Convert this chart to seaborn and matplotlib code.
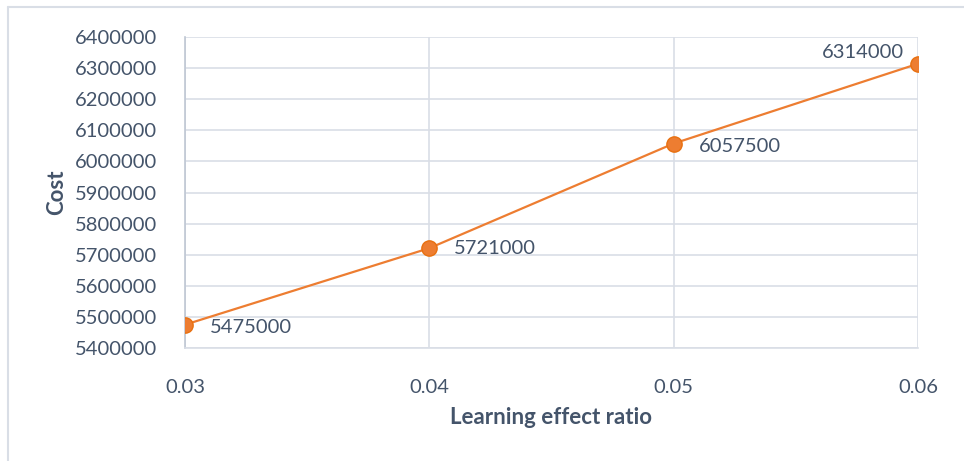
import matplotlib
matplotlib.use("Agg")
import matplotlib.pyplot as plt
from matplotlib.lines import Line2D
import seaborn as sns
import pandas as pd

# Cost as a function of the learning effect ratio
ratios = [0.03, 0.04, 0.05, 0.06]
costs = [5475000, 5721000, 6057500, 6314000]
x_ticks = [0.03, 0.04, 0.05, 0.06]
x_tick_labels = ["0.03", "0.04", "0.05", "0.06"]
y_ticks = list(range(5400000, 6400001, 100000))

df = pd.DataFrame({"ratio": ratios, "cost": costs})

sns.set_theme(style="white")
plt.rcParams["font.family"] = ["Lato", "DejaVu Sans"]

text_color = "#44546A"
grid_color = "#D9DEE6"
orange = "#ED7D31"

fig = plt.figure(figsize=(9.64, 4.61), dpi=100)
ax = fig.add_axes([185 / 964, 1 - 348 / 461, (918 - 185) / 964, (348 - 37) / 461])

sns.lineplot(
    data=df, x="ratio", y="cost", ax=ax, color=orange, linewidth=1.6,
    marker="o", markersize=11, markeredgecolor="#E8700F", markeredgewidth=1.0,
    zorder=5,
)

ax.set_xlim(0.03, 0.06)
ax.set_ylim(5400000, 6400000)
ax.set_xticks(x_ticks)
ax.set_xticklabels(x_tick_labels)
ax.set_yticks(y_ticks)
ax.set_yticklabels([str(v) for v in y_ticks])

ax.grid(True, color=grid_color, linewidth=1.2)
ax.set_axisbelow(True)
for side in ["top", "right"]:
    ax.spines[side].set_visible(False)
ax.spines["bottom"].set_color(grid_color)
ax.spines["bottom"].set_linewidth(1.2)
ax.spines["left"].set_color("#BFC7D3")
ax.spines["left"].set_linewidth(1.2)

ax.tick_params(axis="both", length=0, labelsize=14.5, labelcolor=text_color)
ax.tick_params(axis="x", pad=22)
ax.tick_params(axis="y", pad=20)

ax.set_xlabel("Learning effect ratio", fontsize=16, fontweight="bold",
              color=text_color, labelpad=8)
ax.set_ylabel("Cost", fontsize=16, fontweight="bold", color=text_color, labelpad=6)

# Value labels next to each point
offsets = [(18, -2, "left", "center"), (18, 0, "left", "center"),
           (18, -2, "left", "center"), (-10, 8, "right", "center")]
for x, y, (dx, dy, ha, va) in zip(ratios, costs, offsets):
    ax.annotate(str(y), (x, y), xytext=(dx, dy), textcoords="offset points",
                ha=ha, va=va, fontsize=14.5, color=text_color, zorder=6)

# Chart frame edges
fig.add_artist(Line2D([8 / 964, 8 / 964], [0, 1 - 7 / 461], transform=fig.transFigure,
                      color="#D9DEE6", linewidth=1.5))
fig.add_artist(Line2D([8 / 964, 1], [1 - 7 / 461, 1 - 7 / 461], transform=fig.transFigure,
                      color="#D9DEE6", linewidth=1.5))

fig.savefig("out.png", dpi=100)
